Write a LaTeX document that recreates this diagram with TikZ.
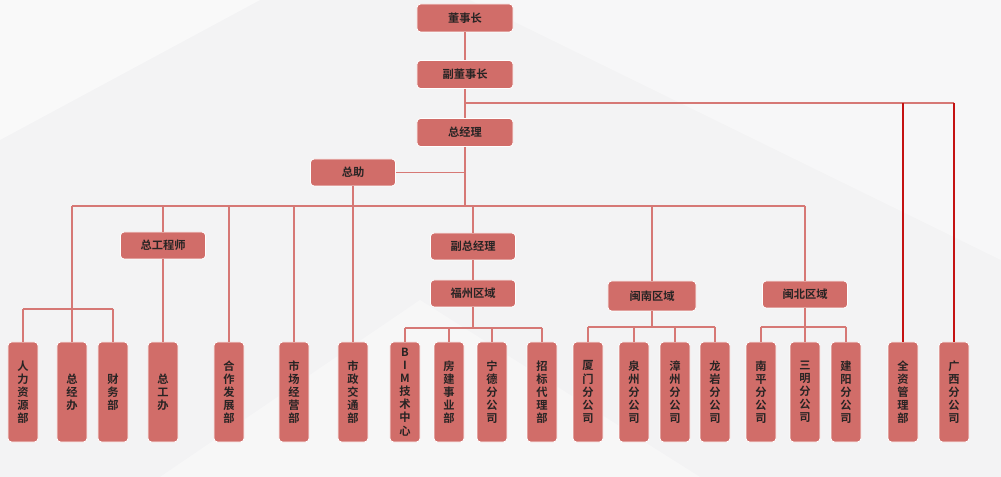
\documentclass[tikz,border=0pt]{standalone}
\usepackage{fontspec}
\setmainfont{Noto Sans CJK SC}[BoldFont={Noto Sans CJK SC Bold}]
\usepackage{tikz}
\usepackage{xcolor}
\usetikzlibrary{positioning}

\definecolor{boxred}{RGB}{209,109,105}
\definecolor{linered}{RGB}{214,120,117}
\definecolor{darkline}{RGB}{196,18,18}
\definecolor{bggray}{RGB}{243,243,244}
\definecolor{txtdark}{RGB}{40,36,36}

\begin{document}
\begin{tikzpicture}[x=0.025cm, y=-0.025cm,
    box/.style={fill=boxred, draw=white, line width=0.6pt, rounded corners=2.5pt,
        text=txtdark, inner sep=0pt, font=\bfseries\fontsize{8}{9.3}\selectfont},
    hbox/.style={box, minimum width=2.125cm, minimum height=0.675cm},
    topbox/.style={box, minimum width=2.4cm, minimum height=0.7cm},
    vbox/.style={box, minimum width=0.75cm, minimum height=2.5cm, align=center},
    link/.style={linered, line width=1.4pt},
    rlink/.style={darkline, line width=1.3pt}]

    % background
    \useasboundingbox (0,0) rectangle (1001,477);
    \fill[bggray] (0,0) rectangle (1001,477);
    \fill[white, opacity=0.5] (0,0) -- (260,0) -- (0,140) -- cycle;
    \fill[white, opacity=0.4] (470,0) -- (1001,0) -- (1001,260) -- cycle;
    \fill[white, opacity=0.35] (160,477) -- (420,300) -- (700,477) -- cycle;

    \def\dept#1#2#3{
        \node[vbox] (#1) at (#2,392) {#3};
    }

    % top of the tree
    \node[topbox] (dsz) at (465,18) {董事长};
    \node[topbox] (fdsz) at (465,74.5) {副董事长};
    \node[topbox] (zjl) at (465,132.5) {总经理};
    \node[hbox] (zz) at (353,172.5) {总助};

    % second level
    \node[hbox] (zgcs) at (163,245.5) {总工程师};
    \node[hbox] (fzjl) at (473,246.5) {副总经理};
    \node[hbox] (fzqy) at (473,293.5) {福州区域};
    \node[hbox, minimum width=2.2cm, minimum height=0.75cm] (mnqy) at (652,296) {闽南区域};
    \node[hbox] (mbqy) at (805,294.5) {闽北区域};

    % departments
    \dept{rlzy}{23}{人\\力\\资\\源\\部}
    \dept{zjb}{72}{总\\经\\办}
    \dept{cwb}{113}{财\\务\\部}
    \dept{zgb}{163}{总\\工\\办}
    \dept{hzfz}{229}{合\\作\\发\\展\\部}
    \dept{scjy}{294}{市\\场\\经\\营\\部}
    \dept{szjt}{353}{市\\政\\交\\通\\部}
    \dept{bim}{405}{B\\I\\M\\技\\术\\中\\心}
    \dept{fjsy}{449}{房\\建\\事\\业\\部}
    \dept{nd}{492}{宁\\德\\分\\公\\司}
    \dept{zbdl}{542}{招\\标\\代\\理\\部}
    \dept{xm}{588}{厦\\门\\分\\公\\司}
    \dept{qz}{634}{泉\\州\\分\\公\\司}
    \dept{zhz}{675}{漳\\州\\分\\公\\司}
    \dept{ly}{715}{龙\\岩\\分\\公\\司}
    \dept{np}{761}{南\\平\\分\\公\\司}
    \dept{sm}{805}{三\\明\\分\\公\\司}
    \dept{jy}{846}{建\\阳\\分\\公\\司}
    \dept{qzgl}{903}{全\\资\\管\\理\\部}
    \dept{gx}{954}{广\\西\\分\\公\\司}

    % bar heights
    \coordinate (rbar) at (954,103);
    \coordinate (bus) at (0,206);
    \coordinate (zhbar) at (0,309);
    \coordinate (fzbar) at (0,328);
    \coordinate (mnbar) at (0,327);

    % trunk
    \draw[link] (dsz) -- (fdsz);
    \draw[link] (fdsz) -- (zjl);
    \draw[link] (zjl) -- (zjl |- bus);
    \draw[link] (zz.east) -- (zz.east -| zjl);
    \draw[link] (zz) -- (szjt);

    % direct branches
    \draw[link] (fdsz.south |- rbar) -- (rbar);
    \draw[rlink] (qzgl.north |- rbar) -- (qzgl);
    \draw[rlink] (rbar) -- (gx);

    % main bus
    \draw[link] (zjb.north |- bus) -- (mbqy.north |- bus);
    \draw[link] (zjb.north |- bus) -- (zjb.north |- zhbar);
    \draw[link] (rlzy.north |- zhbar) -- (cwb.north |- zhbar);
    \foreach \d in {rlzy,zjb,cwb}
        \draw[link] (\d.north |- zhbar) -- (\d);
    \draw[link] (zgcs |- bus) -- (zgcs);
    \draw[link] (zgcs) -- (zgb);
    \draw[link] (hzfz |- bus) -- (hzfz);
    \draw[link] (scjy |- bus) -- (scjy);

    % fuzhou
    \draw[link] (fzjl |- bus) -- (fzjl);
    \draw[link] (fzjl) -- (fzqy);
    \draw[link] (fzqy) -- (fzqy |- fzbar);
    \draw[link] (bim.north |- fzbar) -- (zbdl.north |- fzbar);
    \foreach \d in {bim,fjsy,nd,zbdl}
        \draw[link] (\d.north |- fzbar) -- (\d);

    % minnan
    \draw[link] (mnqy |- bus) -- (mnqy);
    \draw[link] (mnqy) -- (mnqy |- mnbar);
    \draw[link] (xm.north |- mnbar) -- (ly.north |- mnbar);
    \foreach \d in {xm,qz,zhz,ly}
        \draw[link] (\d.north |- mnbar) -- (\d);

    % minbei
    \draw[link] (mbqy |- bus) -- (mbqy);
    \draw[link] (mbqy) -- (mbqy |- mnbar);
    \draw[link] (np.north |- mnbar) -- (jy.north |- mnbar);
    \foreach \d in {np,sm,jy}
        \draw[link] (\d.north |- mnbar) -- (\d);
\end{tikzpicture}
\end{document}
